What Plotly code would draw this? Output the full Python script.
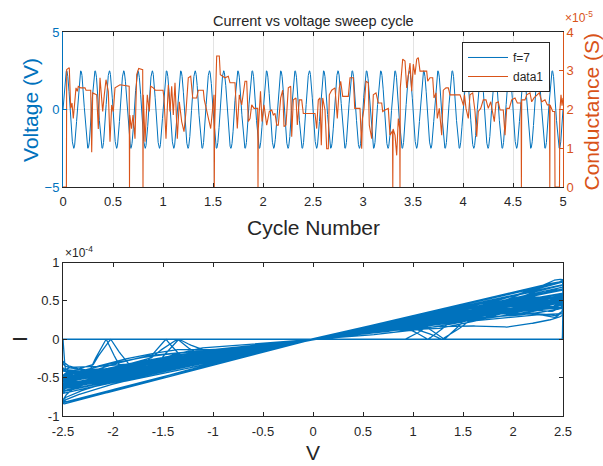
import numpy as np
import plotly.graph_objects as go

BLUE = "#0072BD"
ORANGE = "#D95319"
INK = "#262626"
GRID = "#e3e3e3"
FONT = "Liberation Sans, Arial, sans-serif"

# Voltage sweep: sine of amplitude 2.5 V at 7 cycles per unit
sweep_freq = 7
sweep_amp = 2.5

# Measured conductance (units of 1e-5 S) against cycle number
g_time = [
    0.000, 0.034, 0.037, 0.063, 0.077, 0.090, 0.103, 0.117, 0.130, 0.143,
    0.153, 0.177, 0.220, 0.230, 0.277, 0.287, 0.297, 0.337, 0.353, 0.370,
    0.397, 0.413, 0.430, 0.453, 0.470, 0.487, 0.503, 0.520, 0.543, 0.570,
    0.662, 0.665, 0.668, 0.685, 0.700, 0.720, 0.737, 0.757, 0.797, 0.800,
    0.803, 0.820, 0.843, 0.863, 0.877, 0.903, 0.923, 0.970, 1.000, 1.010,
    1.030, 1.053, 1.070, 1.087, 1.103, 1.120, 1.143, 1.163, 1.187, 1.210,
    1.230, 1.253, 1.277, 1.297, 1.337, 1.353, 1.403, 1.413, 1.437, 1.453,
    1.477, 1.510, 1.513, 1.516, 1.537, 1.563, 1.573, 1.603, 1.620, 1.653,
    1.670, 1.720, 1.743, 1.763, 1.787, 1.820, 1.837, 1.853, 1.870, 1.887,
    1.910, 1.947, 1.950, 1.953, 1.975, 1.990, 2.010, 2.037, 2.063, 2.087,
    2.103, 2.120, 2.137, 2.153, 2.177, 2.197, 2.210, 2.230, 2.253, 2.277,
    2.287, 2.303, 2.330, 2.343, 2.363, 2.387, 2.403, 2.520, 2.537, 2.553,
    2.570, 2.583, 2.597, 2.620, 2.637, 2.653, 2.663, 2.687, 2.720, 2.743,
    2.763, 2.777, 2.797, 2.853, 2.870, 2.903, 2.917, 2.970, 2.987, 2.995,
    3.010, 3.030, 3.053, 3.063, 3.087, 3.103, 3.130, 3.153, 3.187, 3.197,
    3.220, 3.253, 3.270, 3.295, 3.298, 3.301, 3.320, 3.337, 3.353, 3.367,
    3.370, 3.373, 3.397, 3.420, 3.437, 3.453, 3.470, 3.487, 3.503, 3.520,
    3.537, 3.553, 3.570, 3.637, 3.647, 3.670, 3.697, 3.710, 3.730, 3.743,
    3.763, 3.787, 3.803, 3.830, 3.853, 3.870, 3.970, 3.987, 4.005, 4.015,
    4.030, 4.053, 4.070, 4.097, 4.120, 4.137, 4.153, 4.177, 4.203, 4.230,
    4.253, 4.277, 4.297, 4.313, 4.330, 4.353, 4.370, 4.403, 4.420, 4.437,
    4.463, 4.487, 4.520, 4.543, 4.581, 4.584, 4.587, 4.620, 4.637, 4.670,
    4.687, 4.710, 4.737, 4.763, 4.787, 4.820, 4.843, 4.865, 4.868, 4.871,
    4.897, 4.917, 4.920, 4.965, 4.968, 4.980, 4.990, 5.000,
]
g_value = [
    0.00, 0.00, 3.03, 3.08, 2.03, 2.17, 1.77, 2.12, 2.56, 2.47,
    2.60, 2.56, 2.56, 2.50, 2.50, 0.90, 2.43, 2.38, 1.50, 2.82,
    1.95, 2.38, 2.77, 2.47, 1.17, 2.12, 1.95, 2.56, 2.60, 2.64,
    2.60, 0.00, 1.86, 1.51, 1.86, 1.25, 2.90, 3.06, 3.03, 0.00,
    2.38, 1.17, 2.38, 1.95, 2.60, 2.56, 2.50, 2.50, 2.50, 2.30,
    1.25, 2.64, 1.95, 2.60, 1.86, 2.69, 1.25, 2.20, 1.69, 1.43,
    1.95, 2.82, 2.86, 2.30, 2.30, 2.50, 2.50, 2.25, 1.95, 1.77,
    1.51, 2.38, 0.00, 1.50, 3.38, 3.38, 2.90, 2.86, 2.82, 2.86,
    2.69, 2.69, 1.51, 2.38, 2.12, 2.73, 2.73, 1.69, 1.77, 2.12,
    2.03, 2.03, 0.00, 1.50, 2.47, 1.69, 2.12, 1.60, 1.95, 1.99,
    1.86, 1.90, 1.60, 1.60, 2.30, 2.50, 1.56, 1.60, 2.56, 2.60,
    1.30, 2.25, 2.30, 1.60, 2.25, 2.25, 1.90, 1.90, 1.51, 2.25,
    2.30, 1.08, 2.30, 1.99, 0.99, 0.99, 2.38, 2.50, 2.56, 1.77,
    2.56, 2.73, 2.34, 2.34, 2.82, 2.82, 2.03, 2.03, 0.99, 1.77,
    2.03, 2.73, 2.69, 1.60, 1.25, 2.38, 2.43, 2.17, 2.17, 1.95,
    1.99, 2.03, 1.34, 1.45, 0.00, 1.50, 1.34, 0.82, 1.77, 1.50,
    0.00, 2.56, 3.30, 3.25, 2.56, 2.90, 3.20, 2.47, 3.17, 2.90,
    3.30, 3.34, 2.99, 2.99, 2.73, 2.82, 2.82, 2.30, 2.43, 1.77,
    2.03, 1.34, 2.50, 2.56, 2.56, 2.38, 2.38, 2.25, 2.10, 2.38,
    2.03, 1.77, 2.38, 2.43, 1.95, 1.30, 1.95, 2.03, 2.25, 2.25,
    2.03, 2.20, 1.86, 1.69, 2.17, 2.20, 1.99, 1.99, 1.34, 2.03,
    2.03, 2.25, 2.30, 2.17, 2.17, 0.00, 2.25, 2.25, 2.38, 2.43,
    2.20, 2.30, 2.38, 2.43, 2.20, 2.25, 2.12, 2.12, 0.00, 2.12,
    1.95, 1.95, 0.00, 0.00, 1.95, 2.38, 2.10, 2.30,
]

x_ticks_top = [0, 0.5, 1, 1.5, 2, 2.5, 3, 3.5, 4, 4.5, 5]
x_ticks_bottom = [-2.5, -2, -1.5, -1, -0.5, 0, 0.5, 1, 1.5, 2, 2.5]
i_ticks = [-1e-4, -0.5e-4, 0, 0.5e-4, 1e-4]
i_tick_text = ["-1", "-0.5", "0", "0.5", "1"]

# Fine time base for the sweep; current follows from I = G * V
t = np.linspace(0, 5, 20001)
volt = sweep_amp * np.sin(2 * np.pi * sweep_freq * t)
g_fine = np.interp(t, g_time, g_value) * 1e-5
current = g_fine * volt


def fmt(v):
    return "%g" % v


fig = go.Figure()
fig.add_trace(go.Scatter(x=t, y=volt, name="f=7", mode="lines",
                         line=dict(color=BLUE, width=1), xaxis="x", yaxis="y"))
fig.add_trace(go.Scatter(x=g_time, y=g_value, name="data1", mode="lines",
                         line=dict(color=ORANGE, width=1.1), xaxis="x", yaxis="y2"))
fig.add_trace(go.Scatter(x=volt, y=current, mode="lines", showlegend=False,
                         line=dict(color=BLUE, width=1.3), xaxis="x2", yaxis="y3"))

tick_font = dict(family=FONT, size=13, color=INK)
top_dom = [0.596, 1.0]
bot_dom = [0.0, 0.3997]

fig.update_layout(
    width=603, height=466,
    margin=dict(l=63, r=40, t=32, b=50),
    paper_bgcolor="white", plot_bgcolor="white",
    font=dict(family=FONT, color=INK),
    xaxis=dict(domain=[0, 1], anchor="y", range=[0, 5],
               tickvals=x_ticks_top, ticktext=[fmt(v) for v in x_ticks_top],
               ticks="inside", ticklen=4, tickcolor=INK, showline=True,
               linecolor=INK, linewidth=1, mirror="ticks", showgrid=True,
               gridcolor=GRID, zeroline=False, tickfont=tick_font,
               ticklabelstandoff=2),
    yaxis=dict(domain=top_dom, anchor="x", range=[-5, 5], tickvals=[-5, 0, 5],
               ticks="inside", ticklen=4, tickcolor=BLUE, showline=True,
               linecolor=BLUE, linewidth=1, showgrid=True, gridcolor=GRID,
               zeroline=False, tickfont=dict(family=FONT, size=13, color=BLUE)),
    yaxis2=dict(overlaying="y", anchor="x", side="right", range=[0, 4],
                tickvals=[0, 1, 2, 3, 4], ticks="inside", ticklen=4,
                tickcolor=ORANGE, showline=True, linecolor=ORANGE, linewidth=1,
                showgrid=False, zeroline=False,
                tickfont=dict(family=FONT, size=13, color=ORANGE)),
    xaxis2=dict(domain=[0, 1], anchor="y3", range=[-2.5, 2.5],
                tickvals=x_ticks_bottom, ticktext=[fmt(v) for v in x_ticks_bottom],
                ticks="inside", ticklen=4, tickcolor=INK, showline=True,
                linecolor=INK, linewidth=1, mirror="ticks", showgrid=False,
                zeroline=False, tickfont=tick_font, ticklabelstandoff=3),
    yaxis3=dict(domain=bot_dom, anchor="x2", range=[-1e-4, 1e-4],
                tickvals=i_ticks, ticktext=i_tick_text, ticks="inside",
                ticklen=4, tickcolor=INK, showline=True, linecolor=INK,
                linewidth=1, mirror="ticks", showgrid=False, zeroline=False,
                tickfont=tick_font),
    legend=dict(x=0.798, y=0.974, xanchor="left", yanchor="top",
                bgcolor="white", bordercolor=INK, borderwidth=1,
                font=dict(family=FONT, size=12, color=INK),
                itemwidth=40, tracegroupgap=0),
    showlegend=True,
)

ann = [
    dict(text="Current vs voltage sweep cycle", x=0.5, y=1.0286,
         font=dict(size=14.5, color=INK)),
    dict(text="Voltage (V)", x=-0.064, y=0.797, textangle=-90,
         font=dict(size=21, color=BLUE)),
    dict(text="Conductance (S)", x=1.056, y=0.793, textangle=-90,
         font=dict(size=21, color=ORANGE)),
    dict(text="Cycle Number", x=0.5, y=0.492, font=dict(size=21, color=INK)),
    dict(text="I", x=-0.088, y=0.2005, textangle=-90,
         font=dict(size=21, color=INK)),
    dict(text="V", x=0.5, y=-0.096, font=dict(size=21, color=INK)),
    dict(text="×10<sup>-5</sup>", x=1.0, y=1.0, xanchor="left",
         yanchor="bottom", yshift=5, font=dict(size=12, color=ORANGE)),
    dict(text="×10<sup>-4</sup>", x=0.0, y=0.3997, xanchor="left",
         yanchor="bottom", yshift=1, font=dict(size=12, color=INK)),
]
for a in ann:
    a.setdefault("xanchor", "center")
    a.setdefault("yanchor", "middle")
    a.update(xref="paper", yref="paper", showarrow=False)
    a["font"]["family"] = FONT
fig.update_layout(annotations=ann)

fig.write_html("out.html")
